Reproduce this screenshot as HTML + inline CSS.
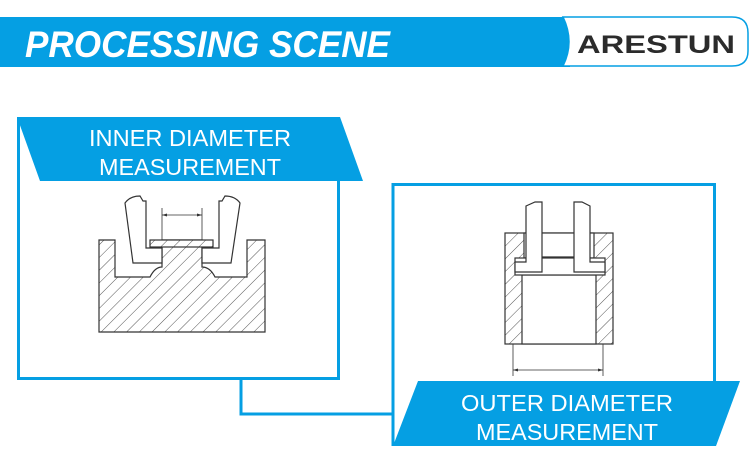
<!DOCTYPE html>
<html><head><meta charset="utf-8"><style>html,body{margin:0;padding:0;background:#fff;width:750px;height:473px;overflow:hidden}</style></head>
<body>
<svg width="750" height="473" viewBox="0 0 750 473" xmlns="http://www.w3.org/2000/svg" font-family="Liberation Sans, sans-serif">
<defs>
<pattern id="h" patternUnits="userSpaceOnUse" width="9" height="9" patternTransform="rotate(45)">
<rect width="9" height="9" fill="#fff"/><line x1="0" y1="0" x2="0" y2="9" stroke="#555" stroke-width="1"/>
</pattern>
</defs>
<rect x="0" y="17" width="570" height="50" fill="#059fe3"/>
<path d="M563,17 L732,17 Q748,17 748,33 L748,51 Q748,66 732,66 L563,66 Q575,42 563,17 Z" fill="#fff" stroke="#059fe3" stroke-width="1.5"/>
<text x="25" y="57" fill="#fff" font-size="37" font-weight="bold" font-style="italic" textLength="365" lengthAdjust="spacingAndGlyphs">PROCESSING SCENE</text>
<text x="577" y="53" fill="#2b2b2b" font-size="25" font-weight="bold" textLength="158" lengthAdjust="spacingAndGlyphs">ARESTUN</text>

<polyline points="241,378 241,414 393,414" fill="none" stroke="#059fe3" stroke-width="3"/>
<rect x="18.5" y="118.5" width="320" height="260" fill="none" stroke="#059fe3" stroke-width="3"/>
<polygon points="17,117 340,117 363,181 40,181" fill="#059fe3"/>
<text x="190" y="146" fill="#fff" font-size="23" text-anchor="middle" textLength="202" lengthAdjust="spacingAndGlyphs">INNER DIAMETER</text>
<text x="190" y="175" fill="#fff" font-size="23" text-anchor="middle" textLength="182" lengthAdjust="spacingAndGlyphs">MEASUREMENT</text>
<path d="M393,446 L393,184.5 L714.5,184.5 L714.5,381" fill="none" stroke="#059fe3" stroke-width="3"/>
<polygon points="418,381 740,381 716,446 393,446" fill="#059fe3"/>
<text x="567" y="411" fill="#fff" font-size="23" text-anchor="middle" textLength="212" lengthAdjust="spacingAndGlyphs">OUTER DIAMETER</text>
<text x="567" y="440" fill="#fff" font-size="23" text-anchor="middle" textLength="182" lengthAdjust="spacingAndGlyphs">MEASUREMENT</text>

<g stroke="#333" stroke-width="1.2">
<path d="M99,240 L115,240 L115,277 L150,277 Q155,267 162,267 L162,240 L202,240 L202,267 Q210,267 215,277 L247,277 L247,240 L265,240 L265,332 L99,332 Z" fill="url(#h)"/>
<rect x="150" y="240" width="63" height="7" fill="url(#h)"/>
<path d="M125,203 Q130,196 140,196 L143,201 L146,201 L146,248 L162,248 L162,263 L133,263 Z" fill="#fff"/>
<path d="M240,203 Q235,196 225,196 L222,201 L219,201 L219,248 L202,248 L202,263 L231,263 Z" fill="#fff"/>
<line x1="162" y1="208" x2="162" y2="240" stroke-width="0.8"/>
<line x1="202" y1="208" x2="202" y2="240" stroke-width="0.8"/>
<line x1="162" y1="215" x2="202" y2="215" stroke-width="0.8"/>
</g>
<polygon points="162,215 167,213.5 167,216.5" fill="#333"/>
<polygon points="202,215 197,213.5 197,216.5" fill="#333"/>
<g stroke="#333" stroke-width="1.2">
<rect x="505" y="233" width="108" height="111" fill="url(#h)"/>
<rect x="522" y="275" width="74" height="69" fill="#fff"/>
<rect x="524" y="233" width="70" height="25" fill="#fff"/>
<rect x="515" y="258" width="90" height="17" fill="#fff"/>
<line x1="542" y1="257" x2="574" y2="257"/>
<path d="M526,206 L535,202 L542,202 L542,272 L515,272 L515,262 L526,262 Z" fill="#fff"/>
<path d="M590,206 L582,202 L574,202 L574,272 L605,272 L605,262 L590,262 Z" fill="#fff"/>
<line x1="513" y1="344" x2="513" y2="376" stroke-width="0.8"/>
<line x1="603" y1="344" x2="603" y2="376" stroke-width="0.8"/>
<line x1="513" y1="370" x2="603" y2="370" stroke-width="0.8"/>
</g>
<polygon points="513,370 518,368.5 518,371.5" fill="#333"/>
<polygon points="603,370 598,368.5 598,371.5" fill="#333"/>
</svg>
</body></html>
